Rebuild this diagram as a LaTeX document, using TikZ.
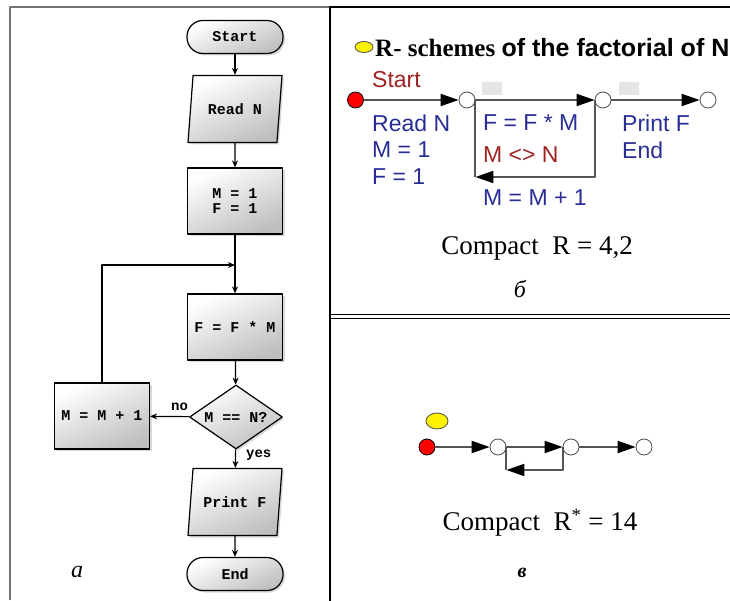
\documentclass[tikz,border=0pt]{standalone}
\usepackage{fontspec}
\setmainfont{Liberation Serif}
\setsansfont{Liberation Sans}
\setmonofont{Liberation Mono}
\usetikzlibrary{shapes.geometric,arrows.meta,shadows,positioning}
\definecolor{rsblue}{RGB}{40,45,150}
\definecolor{rsred}{RGB}{160,35,35}
\definecolor{rsgray}{RGB}{85,85,85}
\newcommand{\fs}[1]{\fontsize{#1}{#1}\selectfont}
\begin{document}
\begin{tikzpicture}[x=1pt,y=-1pt,line join=round,
  fc/.style={draw,line width=1.2pt,top color=white,bottom color=black!25,shading angle=25,
    drop shadow={shadow xshift=2pt,shadow yshift=-2pt,opacity=.3},
    font=\ttfamily\bfseries\fs{15},align=center},
  fcbox/.style={fc,minimum width=95pt,minimum height=66pt},
  fcend/.style={fc,rounded corners=16pt,minimum width=96pt,minimum height=33pt},
  fcio/.style={fc,trapezium,trapezium left angle=74,trapezium right angle=106,
    trapezium stretches body,minimum width=94pt,minimum height=67pt},
  fctest/.style={fc,diamond,aspect=1.45,inner sep=0pt,minimum width=93pt,minimum height=64pt},
  flow/.style={line width=1.2pt,-{Stealth[length=7pt,width=6pt]}},
  lbl/.style={font=\ttfamily\bfseries\fs{14},inner sep=1pt},
  rs/.style={draw=rsgray,line width=2pt,-{Triangle[length=18pt,width=12pt,color=black]}},
  rsline/.style={draw=rsgray,line width=2pt},
  rsdot/.style={circle,draw=black!70,line width=.8pt,fill=white,minimum size=16pt,inner sep=0pt},
  rsstart/.style={rsdot,fill=red,draw=black},
  rsmark/.style={ellipse,draw=black!70,line width=.8pt,fill=yellow,inner sep=0pt},
  rstxt/.style={anchor=west,inner sep=0pt,font=\sffamily\fs{23}},
  cmp/.style={font=\fs{27},inner sep=0pt}]
\useasboundingbox (0,0) rectangle (730,601);

% frame
\draw[black!55,line width=1.5pt] (10,600) -- (10,7) -- (330,7);
\draw[line width=1.2pt] (330,601) -- (330,7) -- (730,7);
\draw[line width=1pt] (330,314.5) -- (730,314.5) (330,318) -- (730,318);

% flowchart
\node[fcend] (start) at (235,37) {Start};
\node[fcio] (read) at (235,109) {Read N};
\node[fcbox] (init) at (235,201) {M = 1\\F = 1};
\coordinate (merge) at (235,265);
\node[fcbox] (mult) at (235,327) {F = F * M};
\node[fctest] (test) at (236,417) {M == N?};
\node[fcbox] (inc) at (102,416) {M = M + 1};
\node[fcio] (print) at (235,502) {Print F};
\node[fcend] (stop) at (235,574) {End};
\draw[flow] (start) -- (read);
\draw[flow] (read) -- (init);
\draw[line width=1.2pt] (init) -- (merge);
\draw[flow] (merge) -- (mult);
\draw[flow] (mult) -- (test);
\draw[flow] (test) -- node[lbl,pos=.25,above=4pt] (no) {no} (inc);
\draw[flow] (test) -- node[lbl,pos=.3,right=9pt] (yes) {yes} (print);
\draw[flow] (print) -- (stop);
\draw[flow] (inc.north) |- (merge);
\node[font=\itshape\fs{24}] (la) at (77,572) {а};

% R-scheme
\node[rsmark,minimum width=18pt,minimum height=11pt] (m1) at (364,47) {};
\node[anchor=west,inner sep=0pt] (title) at (375,48)
  {\rmfamily\bfseries\fs{25}R- schemes \sffamily of the factorial of N};
\node[rsstart] (s1) at (355.5,100) {};
\node[rsdot] (p1) at (467,100) {};
\node[rsdot] (p2) at (603,100) {};
\node[rsdot] (p3) at (708,100) {};
\fill[black!10] (482,82) rectangle (502,95) (619,82) rectangle (639,95);
\draw[rs] (s1) -- (p1);
\draw[rs] (p1) -- (p2);
\draw[rs] (p2) -- (p3);
\coordinate (l1) at (p1.east |- 0,177);
\draw[rs] (p2.west) |- (l1);
\draw[rsline] (l1) -- (p1.east);
\node[rstxt,rsred] (t0) at (372,80) {Start};
\node[rstxt,rsblue] (t1) at (372,123) {Read N};
\node[rstxt,rsblue] (t2) at (372,150) {M = 1};
\node[rstxt,rsblue] (t3) at (372,177) {F = 1};
\node[rstxt,rsblue] (t4) at (483,123) {F = F * M};
\node[rstxt,rsred] (t5) at (483,155) {M <> N};
\node[rstxt,rsblue] (t6) at (483,198) {M = M + 1};
\node[rstxt,rsblue] (t7) at (622,123) {Print F};
\node[rstxt,rsblue] (t8) at (622,150) {End};
\node[cmp] (cb) at (537,248) {Compact\enspace R = 4,2};
\node[font=\itshape\fs{24}] (lb) at (520,289) {б};

% compact R-scheme
\node[rsmark,minimum width=22pt,minimum height=16pt] (m2) at (437,421) {};
\node[rsstart] (s2) at (427,447) {};
\node[rsdot] (q1) at (498,447) {};
\node[rsdot] (q2) at (571,447) {};
\node[rsdot] (q3) at (644,447) {};
\draw[rs] (s2) -- (q1);
\draw[rs] (q1) -- (q2);
\draw[rs] (q2) -- (q3);
\coordinate (l2) at (q1.east |- 0,470);
\draw[rs] (q2.west) |- (l2);
\draw[rsline] (l2) -- (q1.east);
\node[cmp] (cv) at (540,523) {Compact\enspace R\textsuperscript{*} = 14};
\node[font=\itshape\bfseries\fs{20}] (lv) at (522,573) {в};
\end{tikzpicture}
\end{document}
